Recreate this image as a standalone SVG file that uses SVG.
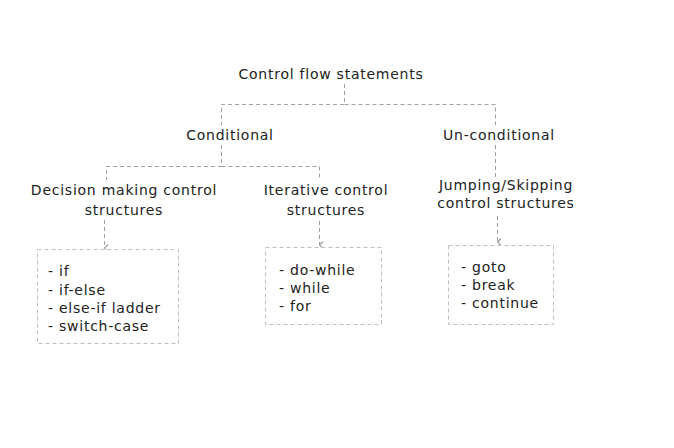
<svg xmlns="http://www.w3.org/2000/svg" width="674" height="448" viewBox="0 0 674 448">
<defs>
<style>
text{font-family:"DejaVu Sans",Verdana,sans-serif;font-size:14px;fill:#222;letter-spacing:0.75px}
.t{text-anchor:middle}
.c{fill:none;stroke:#a0a0a0;stroke-width:1;stroke-dasharray:4,3}
.b{fill:#fff;stroke:#c0c0c0;stroke-width:1;stroke-dasharray:4,3}
</style>
<marker id="ah" markerWidth="10" markerHeight="8" refX="5" refY="6" orient="auto" markerUnits="userSpaceOnUse" viewBox="0 0 10 8">
<path d="M1.5,2.5 L5,6 L8.5,2.5" fill="none" stroke="#a0a0a0" stroke-width="1.2"/>
</marker>
</defs>
<rect width="674" height="448" fill="#fff"/>
<g id="connectors">
<path class="c" d="M344.5,84 V104.5 H221.5 V125"/>
<path class="c" d="M344.5,104.5 H495.5 V125"/>
<path class="c" d="M221.5,145 V166.5 H106.5 V180"/>
<path class="c" d="M221.5,166.5 H319.5 V180"/>
<path class="c" d="M495.5,145 V177"/>
<path class="c" d="M104.5,220 V248" marker-end="url(#ah)"/>
<path class="c" d="M319.5,221 V245" marker-end="url(#ah)"/>
<path class="c" d="M497.5,216 V242" marker-end="url(#ah)"/>
</g>
<g id="root"><text class="t" x="331" y="79">Control flow statements</text></g>
<g id="conditional"><text class="t" x="230" y="140">Conditional</text></g>
<g id="unconditional"><text class="t" x="499" y="140">Un-conditional</text></g>
<g id="decision"><text class="t" x="124" y="195">Decision making control</text><text class="t" x="124" y="215">structures</text></g>
<g id="iterative"><text class="t" x="326" y="195">Iterative control</text><text class="t" x="326" y="215">structures</text></g>
<g id="jumping"><text class="t" x="506" y="190">Jumping/Skipping</text><text class="t" x="506" y="208">control structures</text></g>
<g id="decision-list">
<rect class="b" x="37.5" y="249.5" width="141" height="94"/>
<text x="48" y="276">- if</text><text x="48" y="295">- if-else</text><text x="48" y="313">- else-if ladder</text><text x="48" y="331">- switch-case</text>
</g>
<g id="iterative-list">
<rect class="b" x="265.5" y="247.5" width="116" height="77"/>
<text x="279" y="275">- do-while</text><text x="279" y="293">- while</text><text x="279" y="311">- for</text>
</g>
<g id="jumping-list">
<rect class="b" x="448.5" y="245.5" width="105" height="79"/>
<text x="461" y="272">- goto</text><text x="461" y="290">- break</text><text x="461" y="308">- continue</text>
</g>
</svg>
